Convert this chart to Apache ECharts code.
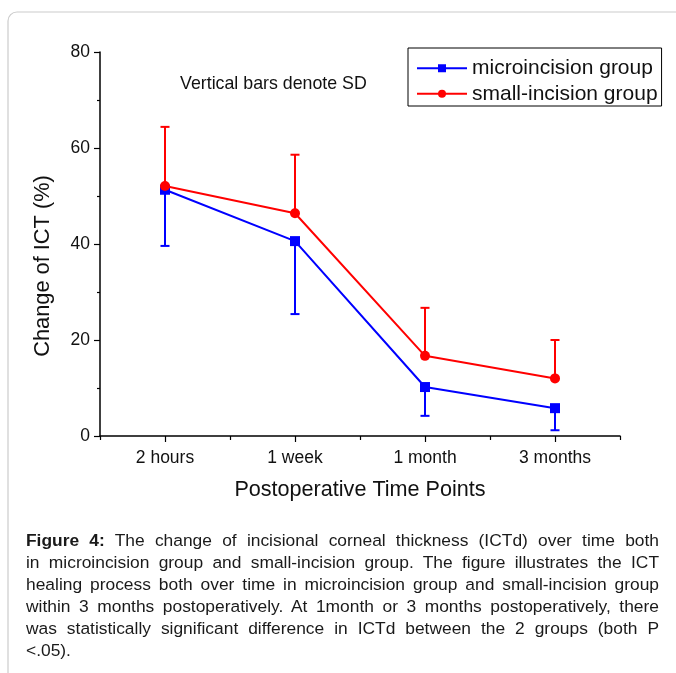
<!DOCTYPE html>
<html>
<head>
<meta charset="utf-8">
<script src="https://cdn.jsdelivr.net/npm/echarts@6/dist/echarts.min.js"></script>
<style>
  html, body { margin: 0; padding: 0; background: #fff; }
  #wrap { position: relative; width: 676px; height: 673px; overflow: hidden; }
  #chart { position: absolute; left: 0; top: 0; width: 676px; height: 673px; }
  #caption { position: absolute; left: 26px; top: 529px; width: 633px;
    font-family: "Liberation Sans", Arial, sans-serif; font-size: 17.4px; line-height: 22px; color: #1a1a1a; }
  #caption .ln { text-align: justify; text-align-last: justify; white-space: nowrap; }
  #caption .last { text-align: left; text-align-last: left; }
</style>
</head>
<body>
<div id="wrap">
  <div id="chart"></div>
  <div id="caption">
    <div class="ln"><b>Figure 4:</b> The change of incisional corneal thickness (ICTd) over time both</div>
    <div class="ln">in microincision group and small-incision group. The figure illustrates the ICT</div>
    <div class="ln">healing process both over time in microincision group and small-incision group</div>
    <div class="ln">within 3 months postoperatively. At 1month or 3 months postoperatively, there</div>
    <div class="ln">was statistically significant difference in ICTd between the 2 groups (both P</div>
    <div class="ln last">&lt;.05).</div>
  </div>
</div>
<script>
const categories = ['2 hours', '1 week', '1 month', '3 months'];
const microMean = [51.3, 40.6, 10.2, 5.8];
const microSD   = [11.7, 15.2, 6.0, 4.6];
const smallMean = [52.1, 46.4, 16.7, 12.0];
const smallSD   = [12.3, 12.2, 10.0, 8.0];
const yTicks = [0, 20, 40, 60, 80];

const FONT = '"Liberation Sans", Arial, sans-serif';
const BLUE = '#0000ff', RED = '#ff0000';

function errorBarSeries(name, color, means, sds, dir) {
  return {
    type: 'custom', name: name + ' SD', z: 1, silent: true,
    xAxisIndex: 0, yAxisIndex: 0,
    data: means.map((m, i) => [i, m, m + dir * sds[i]]),
    renderItem: function (params, api) {
      const p0 = api.coord([api.value(0), api.value(1)]);
      const p1 = api.coord([api.value(0), api.value(2)]);
      const st = { stroke: color, lineWidth: 2 };
      return { type: 'group', children: [
        { type: 'line', shape: { x1: p0[0], y1: p0[1], x2: p1[0], y2: p1[1] }, style: st },
        { type: 'line', shape: { x1: p1[0] - 4.5, y1: p1[1], x2: p1[0] + 4.5, y2: p1[1] }, style: st }
      ]};
    }
  };
}

const chart = echarts.init(document.getElementById('chart'), null, { renderer: 'canvas' });
chart.setOption({
  animation: false,
  backgroundColor: 'transparent',
  textStyle: { fontFamily: FONT },
  grid: { left: 100, top: 52, right: 56, bottom: 237, containLabel: false },
  graphic: [
    { type: 'rect', z: -10, shape: { x: 8, y: 12, width: 720, height: 720, r: 9 },
      style: { fill: 'none', stroke: '#cccccc', lineWidth: 1.2 } },
    { type: 'text', left: 180, top: 75, style: { text: 'Vertical bars denote SD', font: '17.8px ' + FONT, fill: '#111' } },
    { type: 'text', x: 43, y: 266, rotation: Math.PI / 2,
      style: { text: 'Change of ICT (%)', font: '21.8px ' + FONT, fill: '#111', align: 'center', verticalAlign: 'middle' } }
  ],
  legend: {
    orient: 'vertical', left: 408, top: 48,
    borderColor: '#000', borderWidth: 1, borderRadius: 0,
    padding: [8, 4, 0, 8], itemGap: 1, itemWidth: 50, itemHeight: 10,
    textStyle: { fontSize: 21, fontFamily: FONT, color: '#111', lineHeight: 24.5 },
    data: ['microincision group', 'small-incision group']
  },
  xAxis: [
    {
      type: 'category', data: categories, boundaryGap: true, position: 'bottom',
      axisLine: { show: true, onZero: false, lineStyle: { color: '#000', width: 1.5 } },
      axisTick: { show: true, alignWithLabel: true, length: 6, lineStyle: { color: '#000', width: 1.2 } },
      axisLabel: { show: true, margin: 13, fontSize: 17.5, color: '#111', fontFamily: FONT },
      splitLine: { show: false },
      name: 'Postoperative Time Points', nameLocation: 'middle', nameGap: 43,
      nameTextStyle: { fontSize: 21.6, color: '#111', fontFamily: FONT }
    },
    {
      type: 'category', data: categories, boundaryGap: true, position: 'bottom',
      axisLine: { show: false },
      axisTick: { show: true, alignWithLabel: false, length: 4, lineStyle: { color: '#000', width: 1.2 } },
      axisLabel: { show: false }, splitLine: { show: false }
    }
  ],
  yAxis: {
    type: 'value', min: yTicks[0], max: yTicks[yTicks.length - 1], interval: 20,
    axisLine: { show: true, lineStyle: { color: '#000', width: 1.5 } },
    axisTick: { show: true, length: 6, lineStyle: { color: '#000', width: 1.2 } },
    minorTick: { show: true, splitNumber: 2, length: 3, lineStyle: { color: '#000', width: 1.2 } },
    axisLabel: { margin: 10, fontSize: 17.5, color: '#111', fontFamily: FONT },
    splitLine: { show: false }
  },
  series: [
    errorBarSeries('micro', BLUE, microMean, microSD, -1),
    errorBarSeries('small', RED, smallMean, smallSD, 1),
    {
      name: 'microincision group', type: 'line', data: microMean, z: 3,
      symbol: 'rect', symbolSize: 10, color: BLUE,
      lineStyle: { color: BLUE, width: 2 }, itemStyle: { color: BLUE }
    },
    {
      name: 'small-incision group', type: 'line', data: smallMean, z: 4,
      symbol: 'circle', symbolSize: 10, color: RED,
      lineStyle: { color: RED, width: 2 }, itemStyle: { color: RED }
    }
  ]
});
</script>
</body>
</html>
